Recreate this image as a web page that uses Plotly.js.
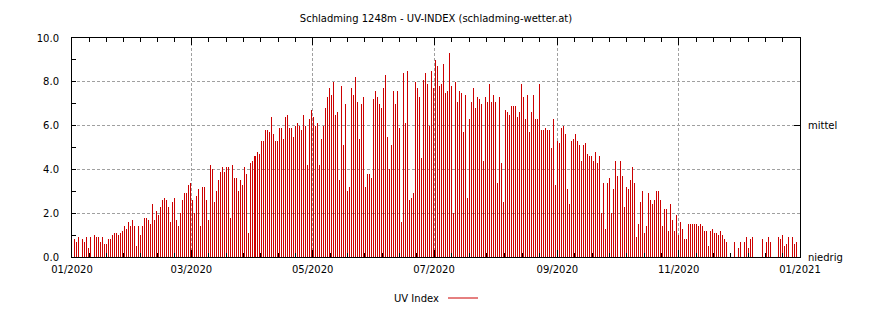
<!DOCTYPE html>
<html>
<head>
<meta charset="utf-8">
<script src="https://cdn.plot.ly/plotly-3.0.1.min.js"></script>
<style>html,body{margin:0;padding:0;background:#fff;}</style>
</head>
<body>
<div id="chart" style="width:870px;height:310px;"></div>
<script>
// Daily UV index, Schladming 2020 (one value per calendar day; null = no reading)
const uvJan = [null,0.8,0.7,0.9,null,0.8,0.7,0.9,0.4,0.9,null,1.0,0.9,0.9,0.7,0.9,0.6,0.6,0.8,0.8,1.0,1.1,1.1,1.0,1.1,1.2,1.4,1.3,1.6,1.4,1.7];
const uvFeb = [1.4,0.5,1.4,1.0,1.4,1.8,1.8,1.7,1.5,2.4,1.7,2.1,1.9,2.3,2.6,2.7,2.6,2.3,1.6,2.5,2.7,1.7,1.4,2.0,2.6,2.9,2.9,3.3,3.4];
const uvMar = [2.6,2.0,2.8,3.1,1.4,3.2,3.2,2.6,1.7,4.2,4.0,2.5,3.0,3.5,3.9,4.1,3.9,4.1,4.1,1.8,4.2,3.6,3.6,3.0,3.5,3.3,4.1,3.8,1.1,4.3,4.4];
const uvApr = [4.6,4.6,4.8,4.7,5.3,5.3,5.8,5.8,5.7,6.4,5.6,5.3,5.3,5.9,5.9,5.4,6.4,6.5,5.9,5.9,5.5,6.0,6.1,6.0,5.8,6.5,6.0,4.2,6.3,6.7];
const uvMay = [6.4,6.0,6.1,4.2,5.4,6.0,6.8,7.3,7.7,7.4,8.0,6.5,6.6,3.5,7.8,5.1,7.0,3.0,3.2,7.7,7.4,8.2,7.1,5.4,7.0,7.3,3.2,3.8,3.8,3.6,7.2];
const uvJun = [7.6,7.3,7.0,6.8,7.7,8.3,5.5,4.0,5.1,7.6,7.0,7.6,5.9,1.6,8.4,6.1,8.5,2.6,2.7,2.9,8.0,7.7,7.3,4.5,8.1,8.4,7.9,6.0,8.5,7.7];
const uvJul = [9.0,8.7,7.8,7.9,8.8,7.5,7.6,9.3,7.8,2.0,8.0,7.1,7.6,7.5,5.7,7.4,2.7,6.3,7.1,7.7,6.8,7.3,7.2,7.0,4.4,7.3,7.1,7.9,7.1,7.4,7.1];
const uvAug = [3.4,7.3,4.3,2.5,6.7,6.6,6.5,6.9,6.9,6.9,6.4,6.6,7.9,7.3,6.3,7.4,5.7,6.6,7.4,6.3,6.3,7.9,5.8,5.8,5.9,5.8,5.8,5.0,6.3,3.3,5.3];
const uvSep = [5.2,5.9,6.0,5.6,3.1,2.4,5.3,5.4,5.6,5.3,5.1,4.4,5.1,5.2,4.7,4.6,4.6,4.4,4.8,4.3,4.6,2.0,3.4,1.3,3.4,3.6,2.0,3.1,4.4,3.7];
const uvOct = [2.2,4.4,3.7,2.3,3.2,3.1,3.5,4.1,3.4,0.9,1.5,2.5,3.0,1.1,1.4,2.9,2.6,2.4,2.6,3.0,3.0,2.6,1.4,2.2,2.2,1.2,2.4,1.7,1.2,1.9,1.0];
const uvNov = [1.6,1.3,0.8,0.8,1.5,1.5,1.5,1.5,1.5,1.4,1.5,1.4,1.2,1.2,0.5,1.2,1.3,1.1,1.1,1.0,1.2,1.0,0.8,0.7,null,null,null,0.7,null,0.4];
const uvDec = [0.7,null,0.7,0.9,0.4,0.8,0.9,null,null,null,null,0.8,null,0.7,0.9,0.7,null,null,null,0.9,0.8,1.0,0.5,0.6,0.9,null,0.9,0.6,0.7,null,null];

const firstDay = '2020-01-01';
// time stamp of the daily reading
const readingHourEarly = 12;          // readings up to 1 July
const readingHourLate = 24;           // readings from 2 July on (stamped at end of day)
const lateStampFrom = '2020-07-02';

const majorTickDates = ['2020-01-01','2020-03-01','2020-05-01','2020-07-01','2020-09-01','2020-11-01','2021-01-01'];
const majorTickLabels = ['01/2020','03/2020','05/2020','07/2020','09/2020','11/2020','01/2021'];
const yTickVals = [0,2,4,6,8,10];
const y2TickVals = [0,6];
const y2TickLabels = ['niedrig','mittel'];
const seriesName = 'UV Index';
const titleText = 'Schladming 1248m - UV-INDEX (schladming-wetter.at)';
const barColor = 'rgba(204,0,0,0.995)'; // alpha < 1 makes Plotly snap bar edges to whole pixels

// ---- build traces from the arrays ----
const uv = [].concat(uvJan,uvFeb,uvMar,uvApr,uvMay,uvJun,uvJul,uvAug,uvSep,uvOct,uvNov,uvDec);
const DAY = 86400000, HOUR = 3600000;
const t0 = Date.parse(firstDay + 'T00:00:00Z');
const tLate = Date.parse(lateStampFrom + 'T00:00:00Z');
function iso(ms){ return new Date(ms).toISOString().slice(0,19).replace('T',' '); }
const xs = uv.map((v,i) => {
  const day = t0 + i*DAY;
  return iso(day + (day >= tLate ? readingHourLate : readingHourEarly)*HOUR);
});

// minor ticks: 6 evenly spaced between consecutive major ticks
const minorVals = [];
for (let k=0;k<majorTickDates.length-1;k++){
  const a = Date.parse(majorTickDates[k]+'T00:00:00Z'), b = Date.parse(majorTickDates[k+1]+'T00:00:00Z');
  for (let j=1;j<7;j++) minorVals.push(iso(a + (b-a)*j/7));
}

const traces = [
  {type:'bar', x: xs, y: uv, width: DAY*0.5, marker:{color: barColor, line:{width:0}},
   showlegend:false, hoverinfo:'x+y', name: seriesName},
  {type:'scatter', x:[], y:[], yaxis:'y2', showlegend:false, hoverinfo:'skip'}
];

const gridStyle = {gridcolor:'#a0a0a0', gridwidth:1, griddash:'3px,2px'};
const layout = {
  width:870, height:310,
  margin:{l:72, r:70, t:38, b:53, pad:0},
  paper_bgcolor:'#fff', plot_bgcolor:'#fff',
  font:{family:'DejaVu Sans, sans-serif', size:10, color:'#000'},
  title:{text:titleText, x:0.5, xref:'paper', xanchor:'center', y:1-18/310, yref:'container', yanchor:'middle',
         font:{family:'DejaVu Sans, sans-serif', size:10, color:'#000'}},
  bargap:0, bargroupgap:0,
  showlegend:false,
  xaxis:Object.assign({
    type:'date', range:[majorTickDates[0], majorTickDates[majorTickDates.length-1]],
    tickmode:'array', tickvals:majorTickDates, ticktext:majorTickLabels,
    ticks:'inside', ticklen:7, tickcolor:'#000', tickwidth:1,
    showline:true, linecolor:'#000', linewidth:1, mirror:'ticks',
    showgrid:true, zeroline:false, ticklabelstandoff:3,
    minor:{tickmode:'array', tickvals:minorVals, ticks:'inside', ticklen:4, tickcolor:'#000', showgrid:false}
  }, gridStyle),
  yaxis:Object.assign({
    range:[0,10], tickmode:'array', tickvals:yTickVals, tickformat:'.1f',
    ticks:'inside', ticklen:4, tickcolor:'#000',
    showline:true, linecolor:'#000', linewidth:1, mirror:true,
    showgrid:true, zeroline:false, ticklabelstandoff:10,
    minor:{dtick:1, ticks:'inside', ticklen:4, tickcolor:'#000', showgrid:false}
  }, gridStyle),
  yaxis2:{
    overlaying:'y', side:'right', range:[0,10],
    tickmode:'array', tickvals:y2TickVals, ticktext:y2TickLabels,
    ticks:'inside', ticklen:6, tickcolor:'#000',
    showline:true, linecolor:'#000', showgrid:false, zeroline:false, ticklabelstandoff:5
  },
  annotations:[{text:seriesName, xref:'paper', yref:'paper', x:(441-72)/728, y:(257-298)/219,
    xanchor:'right', yanchor:'middle', showarrow:false, font:{size:10}}],
  shapes:[{type:'line', xref:'paper', yref:'paper', x0:(448-72)/728, x1:(478-72)/728,
    y0:(257-298)/219, y1:(257-298)/219, line:{color:'#cc0000', width:1}}]
};

Plotly.newPlot('chart', traces, layout, {displayModeBar:false});
</script>
</body>
</html>
